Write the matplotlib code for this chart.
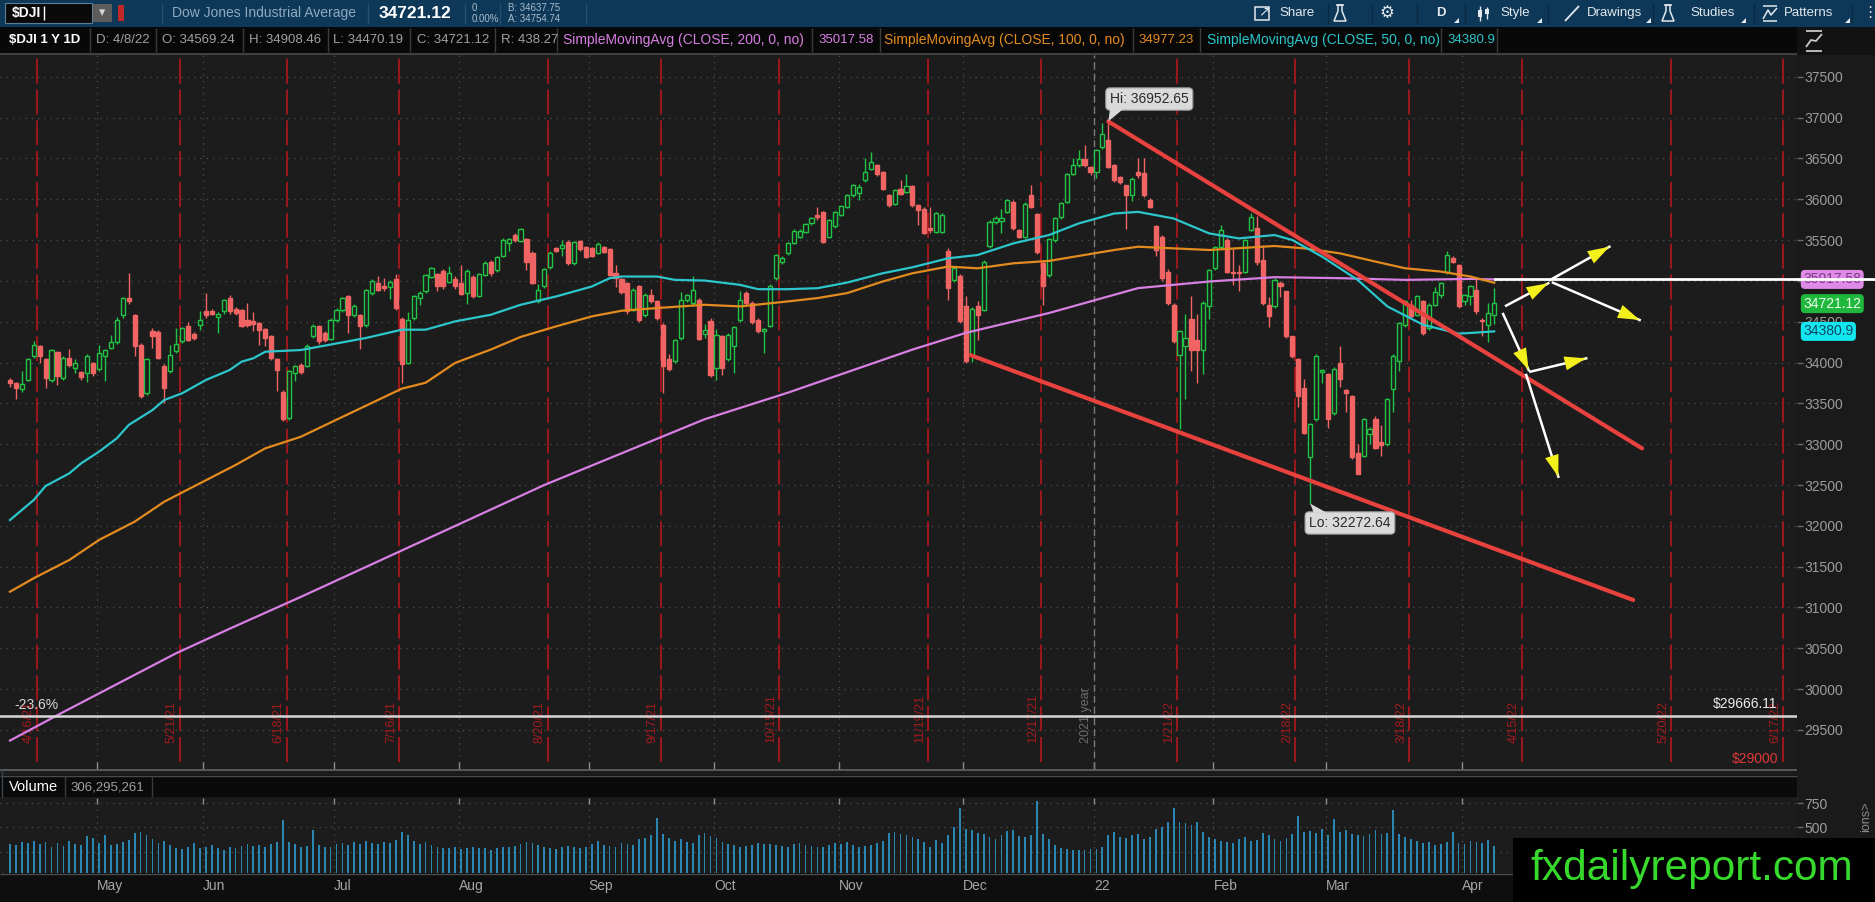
import matplotlib
matplotlib.use("Agg")
import matplotlib.pyplot as plt
import matplotlib.transforms as mtransforms
from matplotlib.patches import Rectangle, Polygon
from matplotlib.lines import Line2D

plt.rcParams['font.family'] = ['Liberation Sans', 'DejaVu Sans']

W, H = 1875, 902

# ---- daily bars, $DJI 4/12/21 .. 4/8/22 ----
opens = [
    33790, 33750, 33670, 33790, 34078, 34200, 34045, 33790, 34125, 33813,
    34057, 33935, 33880, 33875, 33995, 33915, 34078, 34178, 34248, 34585,
    34788, 34577, 34220, 33630, 34382, 34370, 33955, 33894, 34138, 34260,
    34443, 34353, 34463, 34626, 34626, 34560, 34626, 34788, 34655, 34646,
    34516, 34504, 34484, 34410, 34329, 34037, 33638, 33325, 33874, 33975,
    33955, 34321, 34443, 34362, 34288, 34516, 34646, 34809, 34585, 34585,
    34463, 34850, 34970, 34935, 34923, 35020, 34532, 33996, 34544, 34788,
    34870, 35053, 35081, 35126, 34992, 35020, 34972, 34850, 35053, 34820,
    35073, 35236, 35134, 35305, 35459, 35561, 35488, 35508, 35345, 34748,
    34931, 35175, 35398, 35398, 35480, 35216, 35488, 35418, 35398, 35345,
    35418, 35386, 35102, 35020, 34972, 34646, 34931, 34585, 34829, 34748,
    34463, 34045, 34016, 34300, 34768, 34727, 34768, 34353, 34504, 33935,
    34321, 34037, 34199, 34516, 34850, 34727, 34524, 34382, 34451, 35033,
    35236, 35337, 35467, 35540, 35601, 35703, 35805, 35845, 35540, 35670,
    35805, 35906, 36048, 36080, 36231, 36373, 36414, 36333, 36048, 35947,
    36130, 36089, 36158, 35926, 35886, 35642, 35601, 35601, 35370, 35012,
    35061, 34687, 34097, 34695, 34646, 35427, 35723, 35735, 35845, 35967,
    35621, 35540, 36048, 35817, 35223, 35073, 35500, 35784, 35967, 36312,
    36414, 36495, 36394, 36333, 36638, 36727, 36414, 36272, 36170, 36048,
    36333, 36321, 35996, 35670, 35540, 35114, 34707, 34098, 34199, 34532,
    34280, 34158, 34687, 35154, 35418, 35500, 35114, 35114, 35114, 35622,
    35642, 35256, 34707, 34687, 34972, 34870, 34321, 34037, 33691, 32837,
    33305, 33880, 33854, 33386, 33988, 33662, 33589, 32898, 32858, 33122,
    33305, 33028, 33000, 33671, 34016, 34463, 34707, 34585, 34748, 34423,
    34707, 34829, 35114, 35276, 35195, 34748, 34809, 34890, 34524, 34463,
    34585,
]
highs = [
    33810, 33760, 33900, 34060, 34260, 34210, 34060, 34170, 34140, 34080,
    34160, 34040, 33900, 34100, 34010, 34220, 34170, 34340, 34560, 34800,
    35093, 34600, 34240, 34060, 34420, 34400, 33980, 34220, 34420, 34440,
    34500, 34370, 34630, 34850, 34650, 34620, 34780, 34830, 34680, 34660,
    34730, 34620, 34500, 34420, 34340, 34050, 33660, 33910, 33975, 34000,
    34230, 34470, 34460, 34380, 34540, 34670, 34800, 34830, 34720, 34600,
    34900, 35020, 35060, 35040, 35010, 35080, 34560, 34620, 34830, 34870,
    35090, 35175, 35100, 35140, 35180, 35060, 35200, 35140, 35070, 35100,
    35240, 35250, 35300, 35520, 35520, 35580, 35650, 35530, 35360, 34960,
    35160, 35360, 35410, 35500, 35500, 35490, 35500, 35430, 35410, 35470,
    35430, 35400, 35200, 35030, 34990, 34910, 34950, 34850, 34900, 34760,
    34480, 34100, 34290, 34860, 34840, 35060, 34790, 34470, 34540, 34410,
    34340, 34360, 34450, 34880, 34880, 34750, 34540, 34420, 34960, 35330,
    35300, 35470, 35630, 35640, 35710, 35780, 35900, 35860, 35760, 35860,
    35930, 36060, 36190, 36190, 36500, 36577, 36430, 36350, 36060, 36130,
    36240, 36310, 36170, 35940, 35900, 35910, 35840, 35830, 35400, 35180,
    35090, 34820, 34680, 34750, 35250, 35740, 35790, 35880, 36000, 35990,
    35640, 35960, 36180, 35830, 35240, 35520, 35780, 35970, 36320, 36500,
    36600, 36660, 36410, 36610, 36930, 36953, 36430, 36290, 36180, 36270,
    36500, 36500, 36010, 35690, 35560, 35140, 34730, 34400, 34600, 34810,
    34600, 34750, 35150, 35430, 35680, 35520, 35400, 35200, 35510, 35825,
    35800, 35440, 34800, 35030, 35000, 34880, 34330, 34050, 33800, 33260,
    34100, 33920, 33870, 33940, 34200, 33680, 33600, 33000, 33320, 33210,
    33350, 33230, 33570, 34100, 34500, 34760, 34760, 34830, 34760, 34730,
    34930, 34980, 35370, 35300, 35210, 34840, 34950, 35050, 34540, 34730,
    34908,
]
lows = [
    33700, 33550, 33640, 33770, 34050, 33990, 33690, 33760, 33730, 33790,
    33950, 33870, 33790, 33760, 33840, 33900, 33770, 34160, 34230, 34540,
    34720, 34080, 33560, 33600, 34180, 34040, 33510, 33870, 34120, 34240,
    34260, 34280, 34400, 34540, 34580, 34360, 34600, 34600, 34580, 34430,
    34440, 34380, 34220, 34200, 34030, 33650, 33280, 33300, 33770, 33860,
    33940, 34300, 34230, 34250, 34270, 34500, 34620, 34360, 34560, 34160,
    34440, 34830, 34870, 34880, 34780, 34640, 33752, 33980, 34520, 34700,
    34850, 35040, 34880, 34900, 34970, 34900, 34830, 34720, 34790, 34800,
    35060, 35060, 35110, 35290, 35360, 35480, 35470, 35130, 34960, 34730,
    34910, 35150, 35350, 35300, 35200, 35200, 35370, 35280, 35290, 35330,
    35340, 35060, 34930, 34840, 34600, 34630, 34500, 34560, 34730, 34520,
    33630, 33900, 33990, 34280, 34740, 34700, 34270, 34300, 33820, 33780,
    33850, 34020, 33870, 34500, 34700, 34470, 34360, 34120, 34430, 35010,
    35210, 35320, 35450, 35520, 35580, 35690, 35740, 35460, 35520, 35650,
    35790, 35890, 36030, 35990, 36210, 36360, 36290, 36110, 35900, 35930,
    36050, 36070, 35900, 35690, 35570, 35580, 35580, 35580, 34770, 34980,
    34480, 34000, 34006, 34270, 34630, 35400, 35700, 35580, 35830, 35620,
    35520, 35520, 35890, 35330, 34700, 35050, 35480, 35760, 35950, 36300,
    36400, 36390, 36300, 36260, 36620, 36380, 36210, 36190, 35640, 35980,
    36260, 36030, 35890, 35300, 35000, 34700, 34240, 33183, 33550, 33890,
    33750, 33860, 34530, 35130, 35400, 35100, 34950, 34870, 35100, 35610,
    35200, 34700, 34430, 34670, 34800, 34300, 34050, 33450, 33120, 32273,
    33280, 33750, 33200, 33360, 33700, 33400, 32820, 32630, 32840, 33000,
    32940, 32850, 32980, 33400, 33890, 34440, 34530, 34570, 34340, 34400,
    34690, 34790, 35090, 35220, 34670, 34700, 34700, 34600, 34330, 34250,
    34470,
]
closes = [
    33750, 33690, 33740, 34045, 34220, 34078, 33813, 34150, 33833, 34057,
    33975, 33995, 33820, 34080, 33875, 34118, 34150, 34248, 34524, 34788,
    34748, 34200, 33590, 34037, 34321, 34057, 33690, 34097, 34227, 34422,
    34280, 34300, 34524, 34585, 34597, 34597, 34760, 34626, 34605, 34450,
    34463, 34475, 34402, 34300, 34057, 33914, 33305, 33894, 33955, 33882,
    34207, 34443, 34260, 34280, 34524, 34646, 34788, 34585, 34695, 34443,
    34882, 35004, 34890, 34915, 34992, 34666, 33976, 34524, 34809, 34850,
    35073, 35155, 34931, 34931, 35102, 34931, 34841, 35126, 34809, 35085,
    35224, 35094, 35289, 35500, 35508, 35500, 35634, 35236, 34971, 34890,
    35142, 35345, 35370, 35439, 35216, 35480, 35386, 35297, 35305, 35451,
    35358, 35073, 35033, 34858, 34626, 34890, 34524, 34829, 34748, 34544,
    33955, 33923, 34272, 34768, 34829, 34882, 34288, 34402, 33842, 34341,
    33935, 34341, 34435, 34768, 34727, 34492, 34382, 34410, 34939, 35318,
    35276, 35459, 35613, 35610, 35695, 35764, 35784, 35479, 35744, 35845,
    35914, 36048, 36170, 36150, 36333, 36455, 36313, 36130, 35926, 36109,
    36069, 36158, 35926, 35865, 35589, 35621, 35825, 35805, 34910, 35154,
    34504, 34016, 34654, 34585, 35236, 35723, 35764, 35764, 35987, 35642,
    35540, 35939, 35906, 35357, 34939, 35508, 35764, 35954, 36304, 36414,
    36495, 36414, 36333, 36597, 36800, 36394, 36231, 36211, 36048, 36252,
    36292, 36048, 35906, 35378, 35032, 34728, 34260, 34382, 34300, 34158,
    34158, 34728, 35134, 35418, 35622, 35114, 35093, 35093, 35500, 35785,
    35236, 34728, 34565, 35012, 34931, 34321, 34077, 33590, 33142, 33244,
    34085, 33910, 33305, 33915, 33793, 33630, 32837, 32634, 33305, 33191,
    32959, 32988, 33557, 34085, 34484, 34748, 34565, 34817, 34362, 34707,
    34858, 34972, 35317, 35236, 34687, 34829, 34939, 34626, 34504, 34606,
    34728,
]
# volume in millions of shares
volumes = [
    330, 320, 345, 340, 360, 325, 345, 300, 340, 305,
    355, 330, 315, 410, 395, 340, 425, 320, 330, 345,
    365, 440, 455, 425, 380, 340, 360, 320, 290, 275,
    300, 340, 285, 300, 320, 290, 265, 300, 290, 310,
    330, 305, 320, 300, 330, 345, 580, 350, 330, 300,
    310, 470, 320, 300, 295, 330, 340, 320, 345, 330,
    360, 340, 330, 350, 335, 370, 455, 420, 360, 330,
    345, 320, 300, 290, 285, 295, 280, 290, 300, 285,
    290, 270, 285, 300, 295, 310, 330, 350, 340, 320,
    300, 290, 280, 300, 310, 295, 285, 300, 330, 360,
    320, 310, 300, 340, 330, 320, 380, 390, 420, 595,
    430, 395, 360, 380, 350, 340, 420, 440, 410, 390,
    350, 330, 320, 300, 310, 320, 340, 330, 330, 320,
    310, 300, 330, 340, 320, 310, 300, 295, 320, 340,
    330, 350, 320, 300, 310, 320, 340, 360, 440, 450,
    430, 420, 400, 380, 350, 300, 370, 340, 420, 500,
    700, 480, 470, 440, 430, 400, 380, 420, 460, 470,
    410, 400, 420, 775, 430, 380, 320, 290, 280, 270,
    265, 270, 275, 280, 300, 420, 450, 400, 390, 420,
    430, 380, 400, 480, 500, 560, 700, 560, 540, 520,
    560, 450, 400, 380, 360, 350, 340, 380, 400, 360,
    370, 440, 420, 380, 360, 390, 430, 615, 450, 460,
    440, 480, 420, 590, 450, 470, 430, 420, 410, 430,
    470, 430, 440, 680, 430, 400, 380, 360, 340, 350,
    320, 330, 350, 450, 340, 330, 360, 350, 340, 370,
    306,
]

# moving averages as drawn (bar index -> value)
sma200_x = [0, 9, 28, 37, 49, 63, 90, 117, 131, 152, 161, 175, 190, 202, 213, 224, 235, 246, 250]
sma200_y = [29370, 29720, 30440, 30740, 31130, 31598, 32500, 33305, 33630, 34158, 34363,
            34606, 34911, 34992, 35045, 35033, 35012, 35024, 35018]
sma100_x = [0, 4, 10, 15, 21, 26, 32, 38, 43, 49, 54, 66, 70, 75, 81, 86, 92, 98, 103, 109, 117,
            123, 131, 136, 141, 147, 152, 158, 163, 169, 175, 180, 186, 190, 202, 213, 218, 224,
            230, 235, 241, 246, 250]
sma100_y = [31193, 31358, 31582, 31827, 32051, 32296, 32521, 32745, 32949, 33091, 33265, 33680,
            33752, 33996, 34159, 34313, 34443, 34565, 34634, 34667, 34707, 34687, 34748, 34789,
            34850, 34992, 35093, 35175, 35154, 35215, 35244, 35305, 35378, 35418, 35378, 35427,
            35398, 35337, 35236, 35154, 35114, 35053, 34977]
sma50_x = [0, 4, 6, 10, 12, 15, 18, 20, 24, 26, 29, 33, 37, 39, 41, 43, 49, 54, 60, 66, 70, 75,
           81, 86, 92, 98, 101, 103, 109, 112, 117, 123, 126, 131, 136, 141, 147, 152, 158, 163,
           169, 175, 180, 186, 190, 196, 202, 207, 213, 216, 221, 227, 232, 238, 244, 246, 250]
sma50_y = [32071, 32316, 32488, 32643, 32766, 32908, 33072, 33235, 33418, 33541, 33623, 33786,
           33908, 34010, 34052, 34132, 34153, 34220, 34301, 34402, 34402, 34504, 34585, 34707,
           34809, 34931, 35032, 35053, 35053, 35012, 35004, 34951, 34898, 34898, 34910, 34979,
           35093, 35166, 35276, 35317, 35459, 35561, 35703, 35825, 35845, 35764, 35581, 35520,
           35561, 35500, 35297, 35012, 34687, 34463, 34354, 34362, 34381]

month_labels = ['May', 'Jun', 'Jul', 'Aug', 'Sep', 'Oct', 'Nov', 'Dec', '22', 'Feb', 'Mar', 'Apr']
month_pos = [14.7, 32.5, 54.6, 75.6, 97.5, 118.6, 139.7, 160.5, 182.6, 202.7, 221.6, 244.6]
exp_labels = ['4/16/21', '5/21/21', '6/18/21', '7/16/21', '8/20/21', '9/17/21', '10/15/21',
              '11/19/21', '12/17/21', '1/21/22', '2/18/22', '3/18/22', '4/15/22', '5/20/22', '6/17/22']
exp_pos = [4.5, 28.6, 46.6, 65.5, 90.6, 109.6, 129.5, 154.6, 173.6, 196.6, 216.5, 235.7,
           254.7, 279.8, 298.7]
price_ticks = list(range(29500, 38000, 500))

hi_val, hi_idx = 36952.65, 185
lo_val, lo_idx = 32272.64, 219
last_close, sma200_last, sma100_last, sma50_last = 34721.12, 35017.58, 34977.23, 34380.9
fib_level = 29666.11

# drawing annotations (bar index, price)
upper_channel = [(185, 36952), (274.9, 32949)]
lower_channel = [(161.8, 34090), (273.4, 31092)]
arrows = [
    (252.0, 34696, 259.1, 34970),
    (259.4, 35010, 269.4, 35418),
    (259.9, 34977, 274.5, 34521),
    (251.5, 34594, 255.8, 33908),
    (256.1, 33888, 265.5, 34051),
    (255.4, 33847, 260.8, 32602),
]

BG = '#1c1c1c'
GREEN = '#22c445'
RED = '#f06464'
VIOLET = '#d77fe3'
ORANGE = '#e38b1f'
CYAN = '#2cc6cc'
GRAY = '#a0a0a0'

fig = plt.figure(figsize=(W / 100, H / 100), dpi=100, facecolor='#1a1a1a')


def fx(x):
    return x / W


def fy(y):
    return 1 - y / H


def rect(x0, y0, x1, y1, fc, ec='none', lw=0, z=-5):
    fig.add_artist(Rectangle((fx(x0), fy(y1)), (x1 - x0) / W, (y1 - y0) / H,
                             transform=fig.transFigure, facecolor=fc, edgecolor=ec,
                             lw=lw, zorder=z))


def seg(xs, ys, color, lw=1.0, z=-4):
    fig.add_artist(Line2D([fx(x) for x in xs], [fy(y) for y in ys],
                          transform=fig.transFigure, color=color, lw=lw, zorder=z,
                          solid_capstyle='butt'))


def put(x, y, s, **kw):
    kw.setdefault('va', 'center')
    fig.text(fx(x), fy(y), s, **kw)


# ---- frame pieces ----
rect(0, 0, W, 27, '#0d3858')
rect(0, 27, W, 54, '#080808')
rect(1797, 27, W, 55, '#121212')
seg([0, 1797], [54, 54], '#4a4a4a', 1.2)
rect(0, 769, 1797, 775, BG)
rect(0, 775, 1797, 798, '#0a0a0a')
seg([0, 1797], [769.5, 769.5], '#5e5e5e', 1.3)
seg([0, 1797], [775.5, 775.5], '#4a4a4a', 1.0)
seg([0, 1797], [798, 798], '#5a5a5a', 1.0)
rect(0, 873, W, 902, '#0e0e0e')
seg([0, 1797], [873.5, 873.5], '#4a4a4a', 1.0)
seg([2, 2], [55, 873], '#3a4650', 1.0)

# ---- price pane ----
ax = fig.add_axes([0, fy(769), fx(1797), (769 - 55) / H])
ax.set_facecolor(BG)
for s in ax.spines.values():
    s.set_visible(False)
ax.set_xlim(-1.68, 301)
ax.set_ylim(29022, 37766)
ax.set_xticks(month_pos)
ax.tick_params(axis='x', bottom=True, top=False, direction='in', length=5, width=1,
               color='#8a8a8a', labelbottom=False)
ax.set_yticks(price_ticks, ['' if p == 35000 else str(p) for p in price_ticks])
ax.yaxis.tick_right()
ax.tick_params(axis='y', direction='out', length=4, width=1, color='#6a6a6a',
               labelcolor='#9c9c9c', labelsize=10, pad=1.5)
ax.grid(True, color='#4d4d4d', lw=0.9, ls=(0, (1, 4)))
ax.set_axisbelow(True)

xax = ax.get_xaxis_transform()
for p in exp_pos:
    ax.axvline(p, ymin=0.01, color='#b3161c', lw=1.2, ls=(0, (15, 3.5)), zorder=1)
for p, s in zip(exp_pos, exp_labels):
    ax.annotate(s, xy=(p, 0.0364), xycoords=xax, xytext=(-2, 0), textcoords='offset pixels',
                rotation=90, ha='right', va='bottom', color='#a51a1e', fontsize=9, zorder=1)
year_pos = month_pos[month_labels.index('22')]
ax.axvline(year_pos, color='#7a7a7a', lw=1.0, ls=(0, (5, 3)), zorder=1)
ax.annotate('2021 year', xy=(year_pos, 0.0364), xycoords=xax, xytext=(-2, 0),
            textcoords='offset pixels', rotation=90, ha='right', va='bottom',
            color='#6e6e6e', fontsize=9, zorder=1)

# candles
idx = list(range(len(closes)))
up = [c >= o for o, c in zip(opens, closes)]
ax.vlines(idx, lows, highs, colors=[GREEN if u else RED for u in up], lw=1, zorder=3)
ax.bar(idx, [max(abs(c - o), 14) for o, c in zip(opens, closes)],
       bottom=[min(o, c) for o, c in zip(opens, closes)], width=0.7,
       color=[BG if u else RED for u in up], edgecolor=[GREEN if u else RED for u in up],
       lw=1, zorder=4)

ax.plot(sma200_x, sma200_y, color=VIOLET, lw=1.6, zorder=5)
ax.plot(sma100_x, sma100_y, color=ORANGE, lw=1.6, zorder=5)
ax.plot(sma50_x, sma50_y, color=CYAN, lw=1.6, zorder=5)

# channel
for (x0, y0), (x1, y1) in (upper_channel, lower_channel):
    ax.plot([x0, x1], [y0, y1], color='#e8423e', lw=3, zorder=6, solid_capstyle='round')

# fib line and labels
ax.axhline(fib_level, color='#d8d8d8', lw=1.8, zorder=6)
put(14, 705, '-23.6%', color='#d8d8d8', fontsize=10)
put(1777, 704, '$29666.11', color='#ececec', fontsize=10, ha='right')
put(1778, 759, '$29000', color='#e0383a', fontsize=10, ha='right')

# horizontal at sma200 value
ax.plot([250.2, 301], [sma200_last, sma200_last], color='white', lw=2, zorder=7, clip_on=False)

# arrows
for x0, y0, x1, y1 in arrows:
    ax.plot([x0, x1], [y0, y1], color='white', lw=1.8, zorder=8)
    ax.annotate('', xy=(x1, y1), xytext=(x0 + 0.97 * (x1 - x0), y0 + 0.97 * (y1 - y0)),
                arrowprops=dict(arrowstyle='-|>,head_length=1.3,head_width=0.42',
                                color='#f4f01c', lw=0, shrinkA=0, shrinkB=0,
                                mutation_scale=12), zorder=9)

# Hi / Lo bubbles
bub = dict(boxstyle='round,pad=0.3', fc='#dadada', ec='#9a9a9a', lw=0.8)
ax.text(191.9, 37227, 'Hi: %.2f' % hi_val, ha='center', va='center', fontsize=10,
        color='#2a2a2a', bbox=bub, zorder=10)
ax.add_patch(Polygon([(185.3, 37110), (187.6, 37110), (hi_idx, hi_val)], closed=True,
                     fc='#dadada', ec='none', zorder=10))
ax.text(225.7, 32035, 'Lo: %.2f' % lo_val, ha='center', va='center', fontsize=10,
        color='#2a2a2a', bbox=bub, zorder=10)
ax.add_patch(Polygon([(219.6, 32160), (221.8, 32160), (lo_idx, lo_val)], closed=True,
                     fc='#dadada', ec='none', zorder=10))

# right-axis value bubbles
rax = mtransforms.blended_transform_factory(ax.transAxes, ax.transData)
for val, txt, fc, tc in [(sma200_last, '%.2f' % sma200_last, '#de8ae6', '#7d3c88'),
                         (last_close, '%.2f' % last_close, '#1fb83c', '#eaffea'),
                         (sma50_last, '%.1f' % sma50_last, '#12e6ee', '#0a4866')]:
    ax.text(1.0035, val, txt, transform=rax, ha='left', va='center', fontsize=10,
            color=tc, clip_on=False, zorder=12,
            bbox=dict(boxstyle='round,pad=0.18,rounding_size=0.3', fc=fc, ec='none'))
seg([1797, W], [279, 279], 'white', 2.0, z=20)

# ---- volume pane ----
axv = fig.add_axes([0, fy(873), fx(1797), (873 - 798) / H])
axv.set_facecolor(BG)
for s in axv.spines.values():
    s.set_visible(False)
axv.bar(idx, volumes, width=0.3, color='#2b86b2', zorder=3)
axv.set_xlim(-1.68, 301)
axv.set_ylim(30, 802)
axv.set_yticks([250, 500, 750])
axv.yaxis.tick_right()
axv.tick_params(axis='y', direction='out', length=4, width=1, color='#6a6a6a',
                labelcolor='#9c9c9c', labelsize=10, pad=1.5)
axv.set_xticks(month_pos, month_labels)
axv.tick_params(axis='x', length=0, pad=4.3, labelcolor='#a6a6a6', labelsize=10)
for t in axv.get_xticklabels():
    t.set_ha('left')
axv.grid(True, color='#4d4d4d', lw=0.9, ls=(0, (1, 4)))
axv.set_axisbelow(True)
axv.vlines(month_pos, 0.92, 1.0, transform=axv.get_xaxis_transform(), color='#8a8a8a', lw=1)

put(9, 787, 'Volume', color='white', fontsize=10.5)
seg([65, 65], [776, 797], '#3a3a3a')
put(70, 787, '{:,}'.format(306295261), color='#a0a0a0', fontsize=9.5)
seg([152, 152], [776, 797], '#3a3a3a')
put(1866, 817, 'ions>', color='#8a8a8a', fontsize=9, rotation=90, ha='center')

# ---- toolbar ----
rect(5, 3, 92, 23, '#0a0a0a', ec='#5d7d95', lw=0.8, z=1)
put(12, 13, '$DJI', color='white', fontsize=10, weight='bold')
seg([44, 44], [6, 20], 'white', 1, z=2)
rect(93, 4, 112, 22, '#5c5c5c', z=1)
put(102.5, 13, '\u25be', color='#d8d8d8', fontsize=9, ha='center')
rect(118, 5, 124, 21, '#c0282a', z=1)
put(172, 13, 'Dow Jones Industrial Average', color='#8fa9c0', fontsize=10)
put(379, 13, '%.2f' % last_close, color='white', fontsize=12.5, weight='bold')
put(472, 8, '0', color='#a9bccb', fontsize=7)
put(472, 19, '0.00%', color='#a9bccb', fontsize=7)
put(508, 8, 'B: 34637.75', color='#a9bccb', fontsize=7)
put(508, 19, 'A: 34754.74', color='#a9bccb', fontsize=7)
for xs in (162, 368, 465, 500, 586):
    seg([xs, xs], [3, 24], '#24506e', 1, z=1)

tb = '#e2e8ee'
rect(1255, 7, 1269, 20, 'none', ec=tb, lw=1.1, z=1)
put(1264, 11, '\u2197', color=tb, fontsize=10, ha='center')
put(1279, 13, 'Share', color=tb, fontsize=9.5)


def flask(cx):
    fig.add_artist(Polygon([(fx(cx - 2), fy(5)), (fx(cx + 2), fy(5)), (fx(cx + 2), fy(11)),
                            (fx(cx + 6), fy(21)), (fx(cx - 6), fy(21)), (fx(cx - 2), fy(11))],
                           closed=True, transform=fig.transFigure, fc='none', ec=tb, lw=1.1,
                           zorder=1))
    seg([cx - 4, cx + 4], [5, 5], tb, 1.1, z=1)


flask(1340)
put(1387, 13, '\u2699', color=tb, fontsize=12, ha='center')
put(1441, 13, 'D', color=tb, fontsize=9.5, ha='center', weight='bold')
seg([1480, 1480], [6, 21], tb, 1, z=1)
rect(1478, 10, 1482, 17, tb, z=1)
seg([1487, 1487], [7, 19], tb, 1, z=1)
rect(1485, 9, 1489, 14, tb, z=1)
put(1500, 13, 'Style', color=tb, fontsize=9.5)
seg([1565, 1579], [21, 6], tb, 1.3, z=1)
put(1587, 13, 'Drawings', color=tb, fontsize=9.5)
flask(1668)
put(1690, 13, 'Studies', color=tb, fontsize=9.5)
seg([1763, 1777], [6, 6], tb, 1.1, z=1)
seg([1763, 1768, 1771, 1777], [19, 10, 15, 8], tb, 1.1, z=1)
seg([1763, 1777], [21, 21], tb, 1.1, z=1)
put(1784, 13, 'Patterns', color=tb, fontsize=9.5)
put(1870, 13, '\u22ee', color=tb, fontsize=11, ha='center')
for xs in (1328, 1372, 1417, 1465, 1548, 1653, 1754, 1852):
    seg([xs, xs], [3, 24], '#0a2a42', 1, z=1)
for xr in (1459, 1542, 1651, 1746, 1850):
    fig.add_artist(Polygon([(fx(xr), fy(18)), (fx(xr), fy(23)), (fx(xr - 5), fy(23))],
                           closed=True, transform=fig.transFigure, fc=tb, ec='none', zorder=1))

# ---- info row ----
row = [('$DJI 1 Y 1D', 'white', 9, 'bold', 9.5), ('D: 4/8/22', GRAY, 96, 'normal', 9.5),
       ('O: 34569.24', GRAY, 162, 'normal', 9.5), ('H: 34908.46', GRAY, 249, 'normal', 9.5),
       ('L: 34470.19', GRAY, 333, 'normal', 9.5), ('C: 34721.12', GRAY, 417, 'normal', 9.5),
       ('R: 438.27', GRAY, 501, 'normal', 9.5),
       ('SimpleMovingAvg (CLOSE, 200, 0, no)', VIOLET, 563, 'normal', 10),
       ('%.2f' % sma200_last, VIOLET, 818, 'normal', 9.5),
       ('SimpleMovingAvg (CLOSE, 100, 0, no)', ORANGE, 884, 'normal', 10),
       ('%.2f' % sma100_last, ORANGE, 1138, 'normal', 9.5),
       ('SimpleMovingAvg (CLOSE, 50, 0, no)', CYAN, 1207, 'normal', 10),
       ('%.1f' % sma50_last, CYAN, 1447, 'normal', 9.5)]
for s, c, x, wgt, fs in row:
    put(x, 40, s, color=c, fontsize=fs, weight=wgt)
for xs in (90, 156, 243, 328, 410, 495, 557, 812, 880, 1133, 1200, 1441, 1497):
    seg([xs, xs], [28, 52], '#3c3c3c', 1, z=1)
seg([1806, 1822], [31, 31], '#c8c8c8', 1.3, z=1)
seg([1806, 1811, 1816, 1822], [47, 40, 41, 34], '#c8c8c8', 1.3, z=1)
seg([1806, 1822], [51, 51], '#c8c8c8', 1.3, z=1)

# ---- watermark ----
rect(1513, 838, W, H, 'black', z=30)
put(1530, 880, 'fxdailyreport.com', color='#36d92c', fontsize=30.5, va='baseline', zorder=31)

fig.savefig('out.png', dpi=100, facecolor=fig.get_facecolor())
